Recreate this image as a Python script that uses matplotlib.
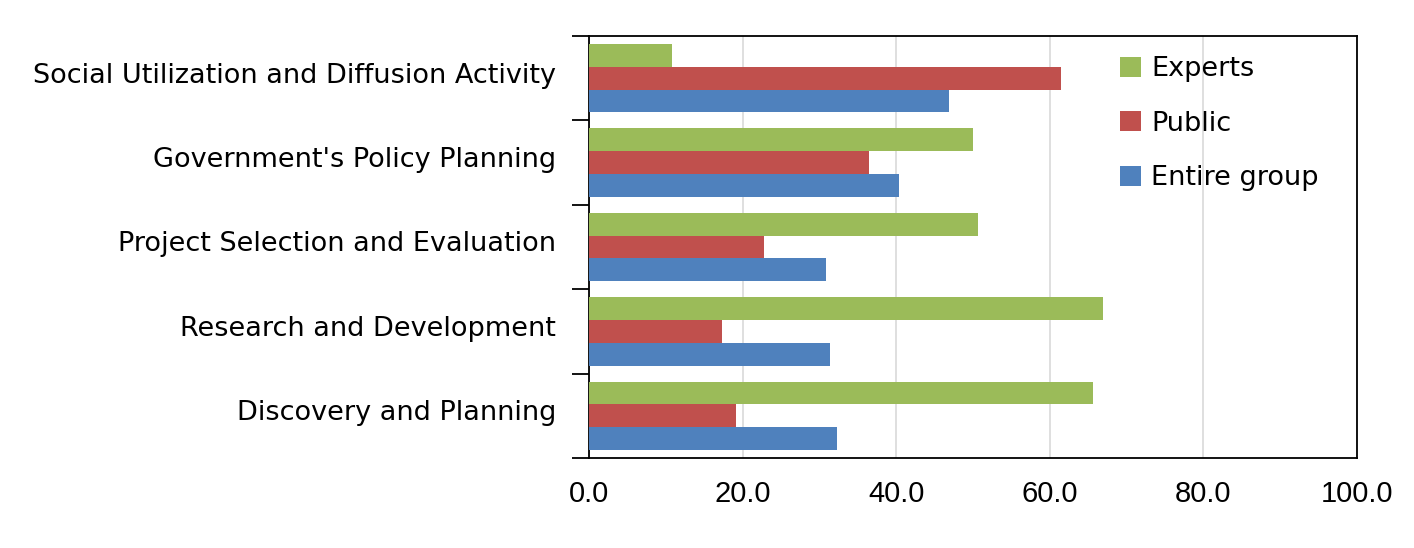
import numpy as np
import matplotlib.pyplot as plt
from matplotlib.patches import Patch

categories = ["Social Utilization and Diffusion Activity",
              "Government's Policy Planning",
              "Project Selection and Evaluation",
              "Research and Development",
              "Discovery and Planning"]
series_names = ["Experts", "Public", "Entire group"]
experts = [10.8, 50.0, 50.7, 66.9, 65.6]
public = [61.5, 36.5, 22.8, 17.3, 19.1]
entire = [46.9, 40.4, 30.9, 31.4, 32.3]
colors = ["#9BBB59", "#C0504D", "#4F81BD"]
xticks = [0, 20, 40, 60, 80, 100]

plt.rcParams['font.family'] = ['DejaVu Sans']

fig = plt.figure(figsize=(14.14, 5.48), dpi=100)
ax = fig.add_axes([0.4165, 0.1642, 0.5432, 0.7701])

n = len(categories)
# top category first
ypos = np.arange(n)[::-1].astype(float)
h = 0.27
for k, vals in enumerate([experts, public, entire]):
    ax.barh(ypos + h - k * h, vals, height=h, color=colors[k], zorder=3)

ax.set_xlim(0, 100)
ax.set_ylim(-0.5, n - 0.5)
ax.set_xticks(xticks)
ax.set_xticklabels(["%.1f" % v for v in xticks])
for t in ax.get_xticklabels():
    t.set_fontfamily('Liberation Sans')
    t.set_fontsize(21)
ax.tick_params(axis='x', length=0, pad=16)
ax.grid(axis='x', color='#d9d9d9', linewidth=1.2, zorder=0)

# category labels at group centers, tick marks at group boundaries
ax.set_yticks(np.arange(n + 1) - 0.5)
ax.set_yticklabels([])
ax.tick_params(axis='y', length=12, width=1.3, direction='out')
for y, lab in zip(ypos, categories):
    ax.text(-0.043, y + 0.03, lab, transform=ax.get_yaxis_transform(),
            ha='right', va='center', fontsize=19.5)

for s in ax.spines.values():
    s.set_linewidth(1.3)
    s.set_color('black')

handles = [Patch(facecolor=c, edgecolor='none') for c in colors]
ax.legend(handles, series_names, loc='upper left', bbox_to_anchor=(0.66, 1.01),
          frameon=False, fontsize=19.5, handlelength=0.75, handleheight=0.75,
          handletextpad=0.4, labelspacing=1.05)

fig.savefig("out.png", dpi=100)
